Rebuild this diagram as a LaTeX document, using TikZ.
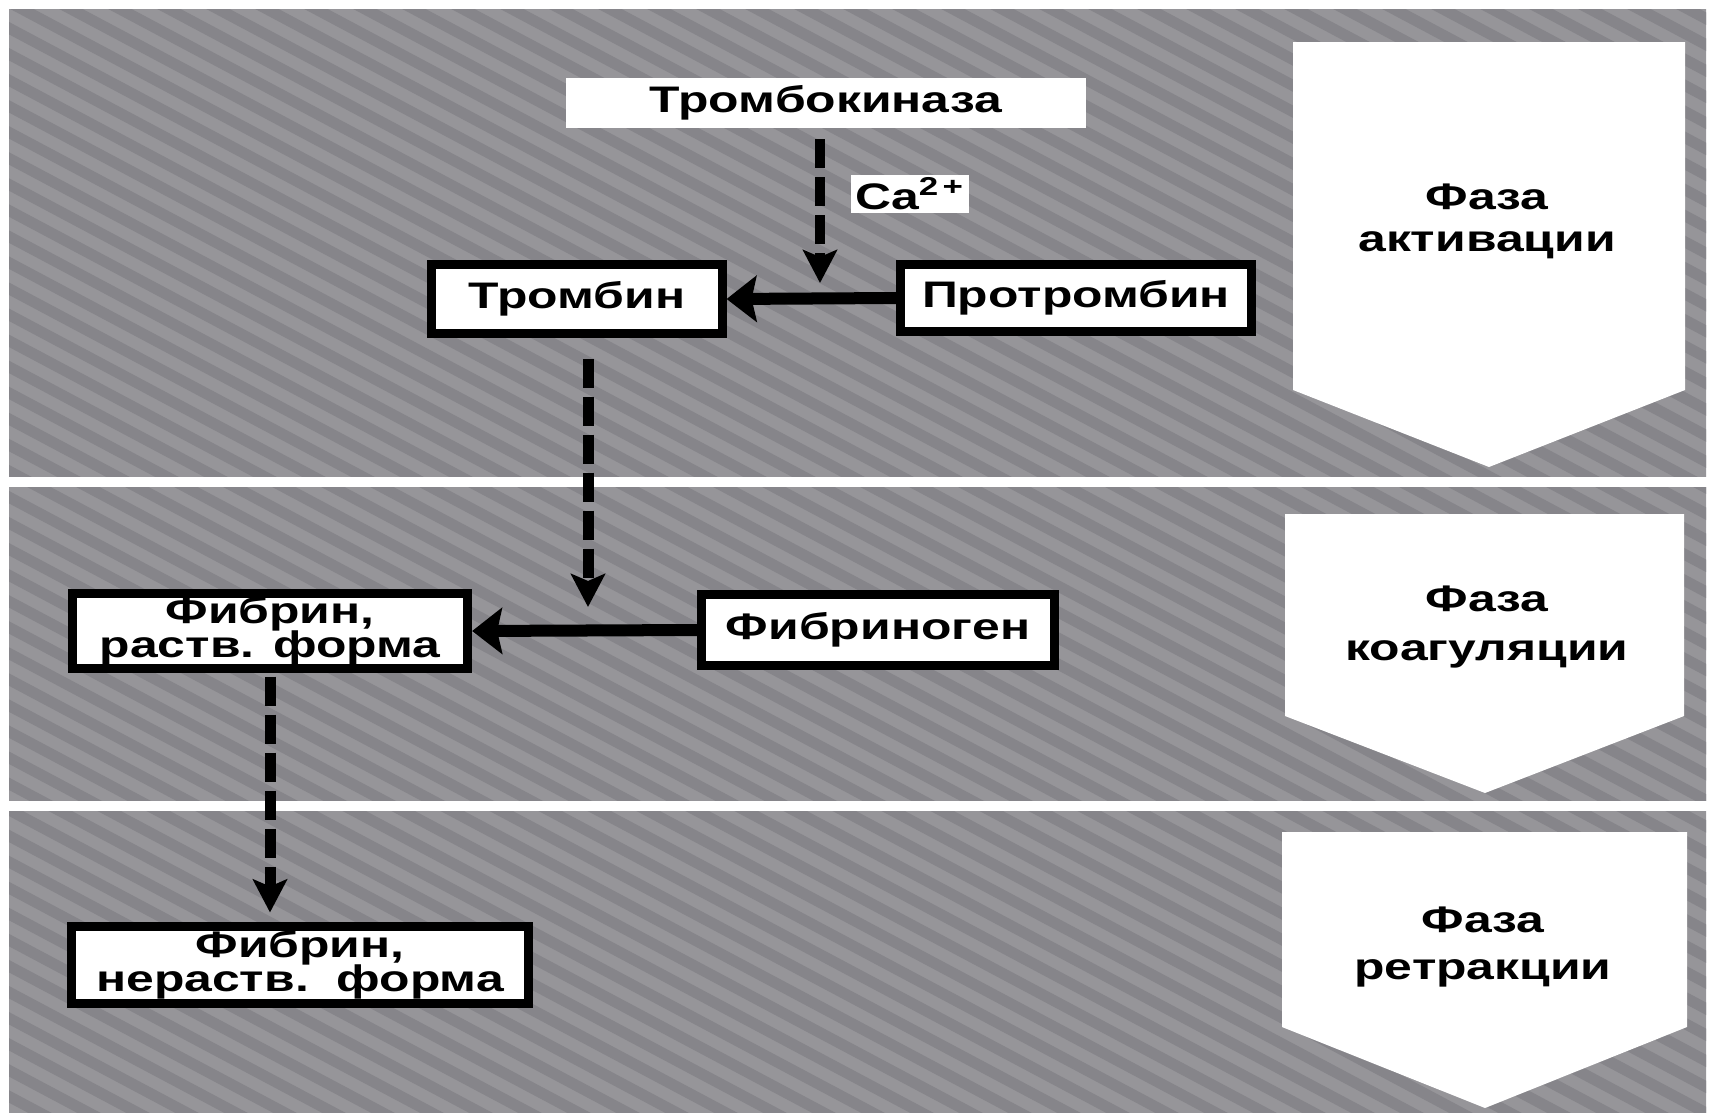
\documentclass[tikz,border=0pt]{standalone}
\usepackage{fontspec}
\setmainfont{Liberation Sans}
\newfontfamily\extfont[FakeStretch=1.35]{Liberation Sans}
\usetikzlibrary{arrows.meta,shadows}
\definecolor{bgbase}{RGB}{150,149,153}
\definecolor{bgstripe}{RGB}{134,133,138}
\newcommand{\tightlns}{\lineskiplimit=-100pt\relax}
\begin{document}
\begin{tikzpicture}[x=0.01cm,y=-0.01cm,
  txt/.style={font=\extfont\bfseries\fontsize{10.5}{9}\selectfont\tightlns, align=center},
  box/.style={txt, draw=black, line width=0.09cm, fill=white, inner sep=0pt,
     drop shadow={shadow xshift=0.04cm, shadow yshift=-0.035cm, fill=black, opacity=0.8}},
  plainbox/.style={txt, fill=white, inner sep=0pt},
  phasetxt/.style={txt},
  solidarr/.style={line width=0.12cm, -{Stealth[length=0.3cm,width=0.46cm,inset=0.05cm]}},
  dasharr/.style={line width=0.11cm, dash pattern=on 0.29cm off 0.09cm, -{Stealth[length=0.33cm,width=0.34cm,inset=0.07cm]}},
]
\useasboundingbox (0,0) rectangle (1715,1112);
\fill[white] (0,0) rectangle (1715,1112);
% textured grey background
\begin{scope}
  \clip (9,9) rectangle (1706,1130);
  \fill[bgbase] (0,0) rectangle (1715,1130);
  \foreach \i in {-2200,-2151,...,1715}
    \draw[bgstripe, line width=0.11cm] (\i,0) -- ++(2300,1223);
\end{scope}
% white separators
\fill[white] (0,477) rectangle (1715,487);
\fill[white] (0,801) rectangle (1715,811);
% phase arrows
\fill[white] (1293,42) -- (1685,42) -- (1685,390) -- (1489,467) -- (1293,390) -- cycle;
\fill[white] (1285,514) -- (1684,514) -- (1684,716) -- (1485,793) -- (1285,716) -- cycle;
\fill[white] (1282,832) -- (1687,832) -- (1687,1027) -- (1485,1108) -- (1282,1027) -- cycle;
\node[phasetxt, font=\extfont\bfseries\fontsize{10.5}{12}\selectfont] (p1) at (1487,221) {Фаза\\активации};
\node[phasetxt, font=\extfont\bfseries\fontsize{10.5}{13.9}\selectfont] (p2) at (1487,627) {Фаза\\коагуляции};
\node[phasetxt, font=\extfont\bfseries\fontsize{10.5}{13.3}\selectfont] (p3) at (1483,947) {Фаза\\ретракции};
% nodes
\node[plainbox, minimum width=5.19cm, minimum height=0.49cm] (tk) at (826,103) {Тромбокиназа};
\node[plainbox, minimum width=1.17cm, minimum height=0.38cm] (ca) at (910,194) {Ca\textsuperscript{2\,+}};
\node[box, minimum width=2.9cm, minimum height=0.68cm] (tb) at (577,299) {Тромбин};
\node[box, minimum width=3.5cm, minimum height=0.66cm] (ptb) at (1076,298) {Протромбин};
\node[box, minimum width=3.95cm, minimum height=0.74cm,
      font=\extfont\bfseries\fontsize{10.5}{9.6}\selectfont\tightlns] (fr) at (270,631) {Фибрин,\\раств. форма};
\node[box, minimum width=3.52cm, minimum height=0.70cm] (fg) at (878,630) {Фибриноген};
\node[box, minimum width=4.57cm, minimum height=0.76cm,
      font=\extfont\bfseries\fontsize{10.5}{9.6}\selectfont\tightlns] (fn) at (300,965) {Фибрин,\\нераств.\ \ форма};
% connectors
\coordinate (j1) at (820,283);
\coordinate (j2) at (588,607);
\draw[dasharr, line width=0.1cm, shorten <=0.11cm] (tk.south -| j1) -- (j1);
\draw[solidarr] (ptb.west) -- (tb.east);
\draw[dasharr, shorten <=0.21cm] (tb.south -| j2) -- (j2);
\draw[solidarr] (fg.west) -- (fr.east);
\draw[dasharr, shorten <=0.04cm, shorten >=0.1cm] (fr.south) -- (fr.south |- fn.north);
\end{tikzpicture}
\end{document}
